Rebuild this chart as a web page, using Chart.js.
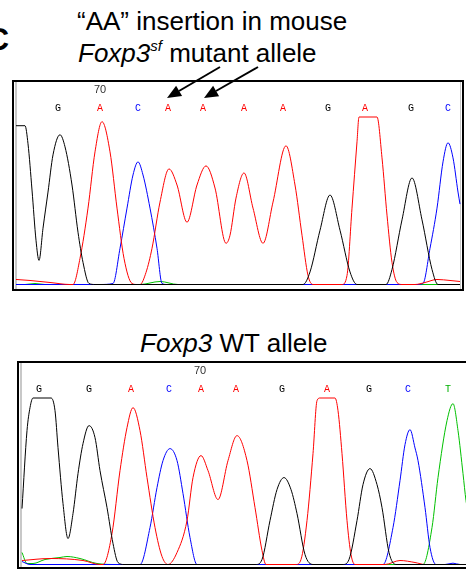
<!DOCTYPE html>
<html>
<head>
<meta charset="utf-8">
<script src="https://cdn.jsdelivr.net/npm/chart.js@4.4.0/dist/chart.umd.min.js"></script>
<style>
  html, body { margin: 0; padding: 0; background: #fff; }
  body { width: 466px; height: 569px; position: relative; overflow: hidden; font-family: "Liberation Sans", Arial, sans-serif; }
  .label { position: absolute; white-space: nowrap; font-size: 26px; line-height: 26px; color: #000; }
  .box { position: absolute; border: 2px solid #000; box-sizing: border-box; background: #fff; }
  .shade { position: absolute; background: #c8c8c8; }
  canvas { position: absolute; }
  svg { position: absolute; left: 0; top: 0; }
</style>
</head>
<body>

<div class="label" style="left:-14px; top:23px; font-size:32px; line-height:32px; font-weight:bold;">C</div>
<div class="label" style="left:77px; top:8px;">&ldquo;AA&rdquo; insertion in mouse</div>
<div class="label" style="left:78px; top:40px;"><i>Foxp3</i><i style="font-size:15px; position:relative; top:-11px;">sf</i> mutant allele</div>
<div class="label" style="left:140px; top:330px;"><i>Foxp3</i> WT allele</div>

<div class="box" style="left:12px; top:80px; width:452px; height:211px;"></div>
<div class="shade" style="left:15px; top:82px; width:2px; height:207px;"></div>
<div class="shade" style="left:460px; top:82px; width:1px; height:207px;"></div>
<canvas id="mutant" width="448" height="207" style="left:14px; top:81px; width:448px; height:207px;"></canvas>

<div class="box" style="left:17px; top:361px; width:460px; height:208px;"></div>
<div class="shade" style="left:20px; top:363px; width:2px; height:204px;"></div>
<canvas id="wildtype" width="456" height="204" style="left:19px; top:362px; width:456px; height:204px;"></canvas>

<svg width="466" height="569">
  <line x1="220" y1="67" x2="179" y2="91" stroke="#000" stroke-width="2"/>
  <polygon points="167,98 182.1,96.1 176.1,85.8" fill="#000"/>
  <line x1="258" y1="67" x2="216" y2="91" stroke="#000" stroke-width="2"/>
  <polygon points="204,98 219.1,96.2 213.1,85.8" fill="#000"/>
</svg>

<script>
// scan position vs. signal (0-1000, 1000 = display saturation)
const mutantG = [[16,948],[25,948],[28,840],[32,564],[36,264],[39,144],[43,336],[48,552],[53,774],[60,894],[65,822],[72,594],[78,312],[83,132],[89,6],[95,0],
  [303,0],[310,75],[320,324],[330,534],[340,324],[350,75],[357,0],[386,0],[392,90],[402,386],[412,636],[422,386],[432,90],[438,0],[460,0]];
const mutantA = [[16,30],[30,24],[50,12],[70,0],[73,0],[80,156],[88,456],[95,792],[102,972],[110,792],[117,456],[124,156],[132,6],[137,0],
  [140,0],[146,72],[152,216],[160,492],[169,690],[177,594],[187,372],[197,594],[206,708],[215,576],[226,246],[230,294],[236,516],[244,666],
  [253,456],[263,246],[273,492],[286,828],[295,594],[302,294],[308,54],[313,0],[342,0],[347,54],[352,456],[357,852],[359,1000],[377,1000],
  [382,756],[387,414],[392,132],[397,12],[402,0],[415,0],[425,12],[437,30],[450,24],[460,18]];
const mutantC = [[16,0],[100,0],[113,6],[120,216],[127,456],[133,654],[138,732],[143,654],[150,456],[157,216],[162,6],[167,0],
  [418,0],[423,6],[430,216],[437,456],[443,732],[448,846],[453,756],[458,552],[460,480]];
const mutantT = [[16,0],[25,0],[35,6],[45,0],[140,0],[160,18],[178,0],[460,0]];

const wtG = [[22,336],[27,804],[30,942],[33,1000],[51,1000],[55,924],[58,702],[63,366],[68,156],[73,306],[78,546],[83,726],[89,834],[95,762],
  [100,564],[107,342],[113,126],[118,12],[124,0],[256,0],[262,30],[270,264],[277,450],[284,522],[291,450],[297,306],[305,60],[313,0],
  [343,0],[349,30],[357,264],[363,480],[370,576],[377,480],[382,342],[389,72],[396,0],[475,0]];
const wtA = [[22,24],[50,36],[83,24],[100,0],[103,0],[112,186],[120,564],[127,822],[133,942],[140,804],[147,522],[155,222],[162,48],[168,0],
  [177,72],[187,264],[193,522],[201,654],[208,564],[218,390],[228,624],[237,774],[247,624],[255,342],[262,84],[266,0],
  [296,0],[301,30],[307,264],[313,666],[317,984],[320,1000],[335,1000],[338,924],[342,666],[347,264],[351,60],[355,0],
  [385,0],[400,24],[415,12],[425,0],[475,0]];
const wtC = [[22,18],[30,0],[140,0],[150,222],[157,462],[163,624],[170,696],[177,624],[183,426],[190,162],[197,0],
  [383,0],[393,222],[400,504],[405,720],[410,810],[415,700],[418,624],[425,342],[430,102],[436,0],[445,0],[453,8],[460,0],[475,0]];
const wtT = [[22,72],[27,6],[33,6],[45,30],[60,42],[67,48],[80,36],[97,6],[117,0],[423,0],[432,222],[438,522],[447,864],[453,966],
  [458,804],[463,546],[466,384],[468,320]];

// base calls and where they sit on the scan axis
const mutantCalls = ['G','A','C','A','A','A','A','G','A','G','C'];
const mutantCallPos = [58,100,138,168,203,244,283,328,365,411,448];
const mutantPos70 = 100;
const wtCalls = ['G','G','A','C','A','A','G','A','G','C','T'];
const wtCallPos = [39,89,131,169,201,236,282,327,369,408,448];
const wtPos70 = 200;

const baseColors = { G: '#000000', A: '#ff0000', C: '#0000ff', T: '#00b000' };

function drawTrace(canvasId, range, traces, calls, callPos, pos70, padBottom){
  const ctx = document.getElementById(canvasId).getContext('2d');
  const datasets = [
    { label: 'G', data: traces.G, borderColor: '#000000' },
    { label: 'A', data: traces.A, borderColor: '#ff0000' },
    { label: 'C', data: traces.C, borderColor: '#0000ff' },
    { label: 'T', data: traces.T, borderColor: '#00c000' }
  ].map(d => Object.assign(d, { borderWidth: 1, pointRadius: 0, cubicInterpolationMode: 'monotone', clip: false }));

  return new Chart(ctx, {
    type: 'line',
    data: { datasets: datasets },
    options: {
      responsive: false,
      animation: false,
      devicePixelRatio: 1,
      events: [],
      layout: { padding: { top: 0, left: 0, right: 0, bottom: padBottom } },
      plugins: { legend: { display: false }, tooltip: { enabled: false } },
      scales: {
        x: { type: 'linear', min: range[0], max: range[1], display: false },
        y: { min: 0, max: 1000, display: false },
        bases: {
          type: 'linear', position: 'top', min: range[0], max: range[1], weight: 0,
          grid: { display: false, drawTicks: false }, border: { display: false },
          afterBuildTicks: a => { a.ticks = callPos.map(v => ({ value: v })); },
          ticks: {
            autoSkip: false, maxRotation: 0, padding: 4,
            font: { family: 'Liberation Mono', size: 10, lineHeight: 1 },
            callback: (v, i) => calls[i],
            color: c => baseColors[calls[c.index]]
          }
        },
        scan: {
          type: 'linear', position: 'top', min: range[0], max: range[1], weight: 1,
          grid: { display: false, drawTicks: false }, border: { display: false },
          afterBuildTicks: a => { a.ticks = [{ value: pos70 }]; },
          ticks: {
            autoSkip: false, maxRotation: 0, padding: 4, color: '#333333',
            font: { family: 'Liberation Sans', size: 11, lineHeight: 10/11 },
            callback: () => '70'
          }
        }
      }
    }
  });
}

drawTrace('mutant', [14, 462], { G: mutantG, A: mutantA, C: mutantC, T: mutantT }, mutantCalls, mutantCallPos, mutantPos70, 3.5);
drawTrace('wildtype', [19, 475], { G: wtG, A: wtA, C: wtC, T: wtT }, wtCalls, wtCallPos, wtPos70, 1.5);
</script>
</body>
</html>
